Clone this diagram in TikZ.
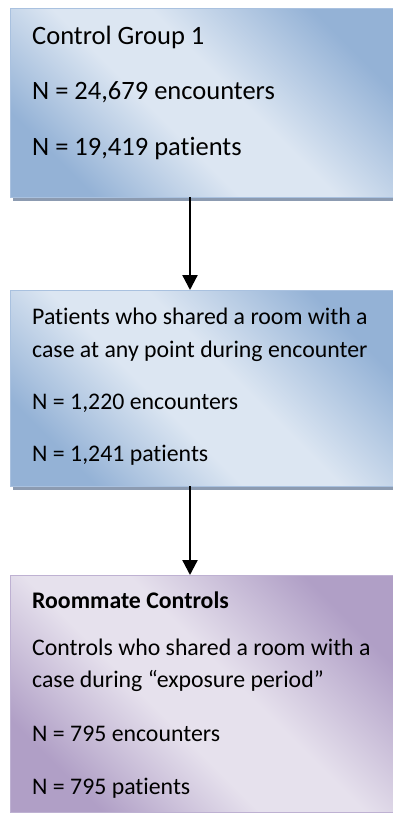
\documentclass[tikz,border=0pt]{standalone}
\usepackage{fontspec}
\setmainfont{Carlito}[Ligatures={TeX,NoCommon}]
\usepackage{xcolor}
\usetikzlibrary{arrows.meta}
\usetikzlibrary{shadows}

\definecolor{bluedark}{HTML}{94B2D6}
\definecolor{bluelight}{HTML}{DCE6F2}
\definecolor{blueline}{HTML}{A9C1DF}
\definecolor{purpdark}{HTML}{B09FC6}
\definecolor{purplight}{HTML}{E6E1ED}
\definecolor{purpline}{HTML}{BEB1D2}
\definecolor{shadowgray}{HTML}{8C9BB1}

\pgfdeclarehorizontalshading{blueshade}{100bp}{color(0bp)=(bluedark); color(25bp)=(bluedark); color(33bp)=(bluelight!45!bluedark); color(43bp)=(bluelight); color(55bp)=(bluelight); color(65bp)=(bluelight!50!bluedark); color(75bp)=(bluedark); color(100bp)=(bluedark)}
\pgfdeclarehorizontalshading{purpshade}{100bp}{color(0bp)=(purpdark); color(25bp)=(purpdark); color(33bp)=(purplight!45!purpdark); color(43bp)=(purplight); color(55bp)=(purplight); color(65bp)=(purplight!50!purpdark); color(75bp)=(purpdark); color(100bp)=(purpdark)}

\tikzset{
  bluebox/.style={rectangle, anchor=north west, inner sep=0pt, outer sep=0pt,
    minimum width=386pt, shading=blueshade, shading angle=45,
    draw=blueline, line width=1pt,
    drop shadow={shadow xshift=3pt, shadow yshift=-3.5pt, fill=shadowgray, opacity=1}},
  purpbox/.style={rectangle, anchor=north west, inner sep=0pt, outer sep=0pt,
    minimum width=386pt, shading=purpshade, shading angle=45,
    draw=purpline, line width=1pt},
  bigline/.style={anchor=base west, inner sep=0pt, font=\fontsize{26.5pt}{32pt}\selectfont},
  smallline/.style={anchor=base west, inner sep=0pt, font=\fontsize{23.8pt}{32pt}\selectfont},
  flow/.style={line width=2.3pt, -{Triangle[length=15pt,width=15pt]}}
}

\begin{document}
\begin{tikzpicture}[x=1pt,y=1pt]
\useasboundingbox (0,0) rectangle (393,-814);
% boxes
\node[bluebox, minimum height=189pt] (A) at (10,-8) {};
\node[bluebox, minimum height=196pt] (B) at (10,-290) {};
\node[purpbox, minimum height=237pt] (C) at (10,-575) {};
% first box
\node[bigline] (A1) at (32,-44) {Control Group 1};
\node[bigline] (A2) at (32,-99) {N = 24,679 encounters};
\node[bigline] (A3) at (32,-155) {N = 19,419 patients};
% second box
\node[smallline] (B1) at (32,-324) {Patients who shared a room with a};
\node[smallline] (B2) at (32,-357) {case at any point during encounter};
\node[smallline] (B3) at (32,-409) {N = 1,220 encounters};
\node[smallline] (B4) at (32,-461) {N = 1,241 patients};
% third box
\node[smallline] (C1) at (32,-608) {\textbf{Roommate Controls}};
\node[smallline] (C2) at (32,-655) {Controls who shared a room with a};
\node[smallline] (C3) at (32,-687) {case during “exposure period”};
\node[smallline] (C4) at (32,-741) {N = 795 encounters};
\node[smallline] (C5) at (32,-794) {N = 795 patients};
% arrows
\draw [flow] ([xshift=-13pt]A.south) -- ([xshift=-13pt]B.north);
\draw [flow] ([xshift=-13pt]B.south) -- ([xshift=-13pt]C.north);
\end{tikzpicture}
\end{document}
